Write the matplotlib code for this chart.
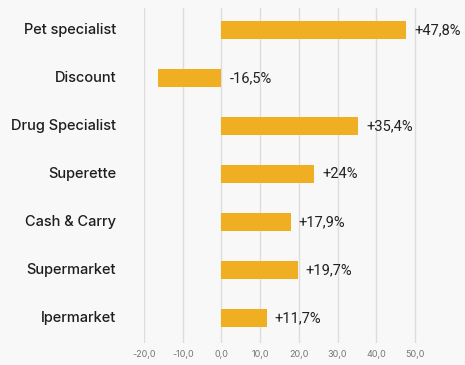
import matplotlib
matplotlib.use("Agg")
import matplotlib.pyplot as plt

categories = ["Pet specialist", "Discount", "Drug Specialist", "Superette",
              "Cash & Carry", "Supermarket", "Ipermarket"]
values = [47.8, -16.5, 35.4, 24.0, 17.9, 19.7, 11.7]
value_labels = ["+47,8%", "-16,5%", "+35,4%", "+24%", "+17,9%", "+19,7%", "+11,7%"]
xticks = [-20, -10, 0, 10, 20, 30, 40, 50]
xtick_labels = ["-20,0", "-10,0", "0,0", "10,0", "20,0", "30,0", "40,0", "50,0"]

W, H = 465, 365
bg = "#f8f8f8"
bar_color = "#F0AE22"
FONT = ["Inter", "DejaVu Sans"]
VFONT = ["Roboto", "DejaVu Sans"]

fig = plt.figure(figsize=(W / 100, H / 100), dpi=100, facecolor=bg)
left_px, right_px = 144, 465
top_px, bot_px = 8, 343
ax = fig.add_axes([left_px / W, (H - bot_px) / H, (right_px - left_px) / W, (bot_px - top_px) / H])
ax.set_facecolor(bg)

scale = (415 - 144) / 70.0
ax.set_xlim(-20, -20 + (right_px - left_px) / scale)
ypos = list(range(len(categories)))
spacing = (318 - 30) / 6.0
ax.set_ylim(6 + (bot_px - 318) / spacing, -(30 - top_px) / spacing)

for x in xticks:
    ax.axvline(x, color="#dddddd", lw=1.0, zorder=0)

ax.barh(ypos, values, height=0.36, color=bar_color, zorder=2)

for y, v, lab in zip(ypos, values, value_labels):
    xpos = max(v, 0) + 8 / scale
    ax.text(xpos, y, lab, va="center", ha="left", fontsize=10.5,
            family=VFONT, fontweight="normal", color="#222222", zorder=3)

for y, c in zip(ypos, categories):
    ax.text(-20 - 28 / scale, y, c, va="center", ha="right", fontsize=10.5,
            family=FONT, fontweight="medium", color="#1e1e1e",
            clip_on=False)

ax.set_xticks(xticks)
ax.set_xticklabels(xtick_labels, fontsize=6.5, color="#777777", family=FONT)
ax.tick_params(axis="x", length=0, pad=5)
ax.set_yticks([])
for s in ax.spines.values():
    s.set_visible(False)

fig.savefig("out.png", dpi=100, facecolor=bg)
